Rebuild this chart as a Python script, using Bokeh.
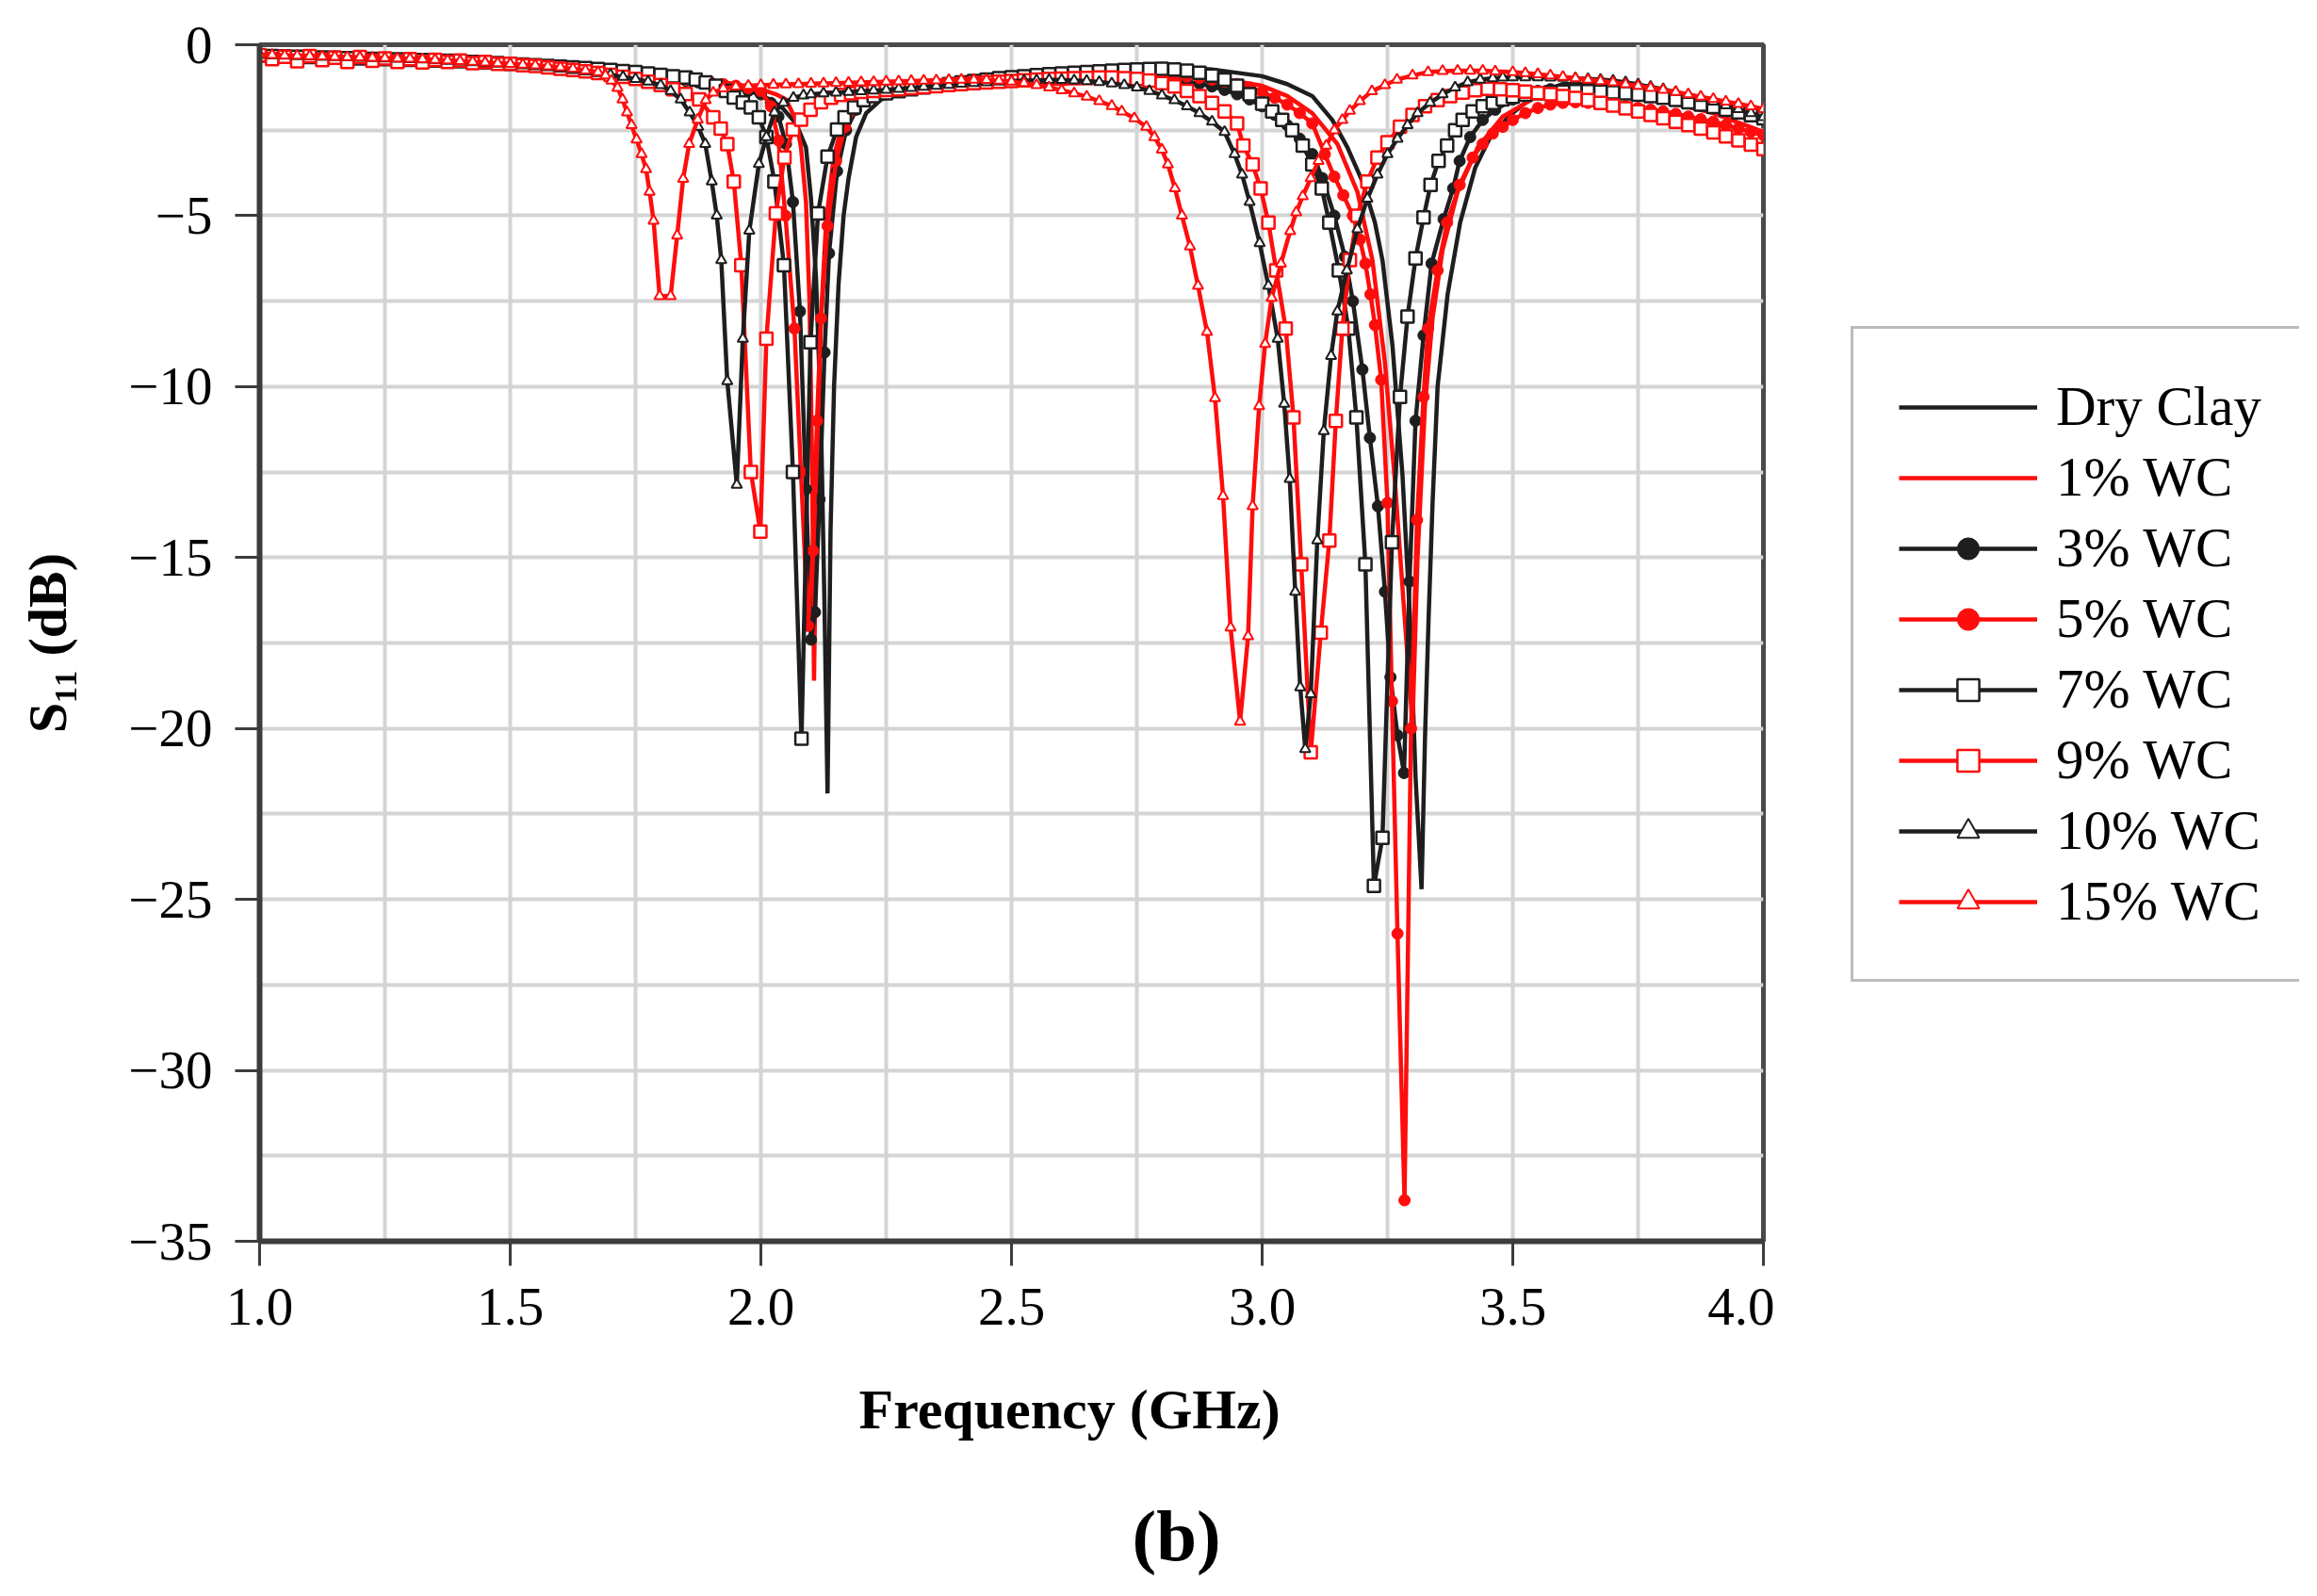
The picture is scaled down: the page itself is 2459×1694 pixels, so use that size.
from bokeh.plotting import figure
from bokeh.layouts import row
from bokeh.models import Range1d, FixedTicker, Legend, LegendItem, Title
from bokeh.embed import file_html
from bokeh.resources import INLINE

# ---------------- data ----------------
GRID_LOW = [1.0, 1.025, 1.05, 1.075, 1.1, 1.125, 1.15, 1.175, 1.2, 1.225, 1.25, 1.275, 1.3, 1.325,
            1.35, 1.375, 1.4, 1.425, 1.45, 1.475, 1.5, 1.525, 1.55, 1.575, 1.6, 1.625, 1.65, 1.675,
            1.7, 1.725, 1.75, 1.775, 1.8, 1.825, 1.85, 1.875, 1.9, 1.925, 1.95, 1.975, 2.0]
GRID_MID = [1.975, 2.0, 2.025, 2.05, 2.075, 2.1, 2.125, 2.15, 2.175, 2.2, 2.225, 2.25, 2.275, 2.3,
            2.325, 2.35, 2.375, 2.4, 2.425, 2.45, 2.475, 2.5, 2.525, 2.55, 2.575, 2.6, 2.625, 2.65,
            2.675, 2.7, 2.725, 2.75, 2.775, 2.8, 2.825, 2.85, 2.875, 2.9, 2.925, 2.95, 2.975, 3.0,
            3.025, 3.05, 3.075, 3.1]
GRID_TAIL = [3.5, 3.525, 3.55, 3.575, 3.6, 3.625, 3.65, 3.675, 3.7, 3.725, 3.75, 3.775, 3.8, 3.825,
             3.85, 3.875, 3.9, 3.925, 3.95, 3.975, 4.0]


def seg(grid, a, b):
    return [f for f in grid if a - 1e-9 <= f <= b + 1e-9]


# Dry Clay
F_DRY = [1.0, 1.1, 1.2, 1.3, 1.4, 1.5, 1.6, 1.7, 1.8, 1.9, 1.95, 2.0, 2.04, 2.07, 2.09, 2.1, 2.11, 2.12,
         2.127, 2.133, 2.139, 2.146, 2.155, 2.165, 2.175, 2.19, 2.21, 2.24, 2.3, 2.4, 2.5, 2.6, 2.7, 2.8,
         2.9, 3.0, 3.05, 3.1, 3.14, 3.17, 3.2, 3.225, 3.24, 3.26, 3.28, 3.295, 3.306, 3.318, 3.325, 3.332,
         3.34, 3.35, 3.37, 3.395, 3.425, 3.455, 3.495, 3.55, 3.6, 3.7, 3.8, 3.9, 4.0]
S_DRY = [-0.30, -0.32, -0.36, -0.40, -0.45, -0.52, -0.62, -0.75, -0.92, -1.12, -1.25, -1.45, -1.8, -2.3,
         -3.0, -4.5, -6.8, -11.0, -16.5, -21.9, -14.2, -10.0, -7.0, -5.0, -3.9, -2.7, -2.0, -1.6, -1.35,
         -1.0, -0.85, -0.75, -0.68, -0.65, -0.72, -0.92, -1.15, -1.5, -2.2, -3.0, -4.0, -5.2, -6.3, -8.8,
         -12.6, -16.8, -21.4, -24.7, -20.2, -16.8, -13.4, -10.0, -7.3, -5.2, -3.6, -2.7, -2.05, -1.4,
         -1.15, -1.15, -1.4, -1.75, -2.15]

# 1% WC
F_1 = [1.0, 1.1, 1.2, 1.3, 1.4, 1.5, 1.6, 1.7, 1.8, 1.9, 1.95, 2.0, 2.03, 2.05, 2.07, 2.08, 2.09, 2.097,
       2.102, 2.106, 2.112, 2.12, 2.13, 2.145, 2.165, 2.19, 2.23, 2.3, 2.4, 2.5, 2.6, 2.7, 2.8, 2.9, 3.0,
       3.05, 3.1, 3.15, 3.19, 3.22, 3.245, 3.265, 3.283, 3.3, 3.31, 3.325, 3.34, 3.36, 3.39, 3.43, 3.48,
       3.55, 3.6, 3.7, 3.8, 3.9, 4.0]
S_1 = [-0.28, -0.3, -0.33, -0.38, -0.43, -0.5, -0.6, -0.72, -0.88, -1.05, -1.15, -1.3, -1.45, -1.6, -2.2,
       -3.0, -4.6, -7.5, -12.0, -18.6, -12.5, -8.0, -5.2, -3.3, -2.2, -1.7, -1.4, -1.25, -1.1, -1.0, -0.9,
       -0.85, -0.85, -0.95, -1.2, -1.5, -2.0, -2.9, -4.3, -6.3, -9.3, -12.8, -16.5, -19.9, -15.0, -10.5,
       -8.0, -6.0, -4.3, -3.0, -2.1, -1.5, -1.35, -1.4, -1.65, -2.0, -2.55]

# 3% WC
F3_D1 = [2.02, 2.035, 2.05, 2.064, 2.078, 2.09, 2.1, 2.108, 2.117, 2.127, 2.136, 2.152, 2.17, 2.19, 2.21, 2.235]
F3_D2 = [3.12, 3.144, 3.165, 3.181, 3.2, 3.215, 3.231, 3.245, 3.256, 3.27, 3.283, 3.294, 3.306, 3.322,
         3.338, 3.362, 3.381, 3.394, 3.415, 3.44, 3.465]
S3_LOW = [-0.32, -0.33, -0.33, -0.34, -0.35, -0.36, -0.37, -0.38, -0.40, -0.41, -0.42, -0.43, -0.44, -0.45,
          -0.46, -0.48, -0.49, -0.50, -0.52, -0.54, -0.56, -0.58, -0.60, -0.63, -0.66, -0.69, -0.72, -0.76,
          -0.80, -0.84, -0.88, -0.92, -0.96, -1.00, -1.05, -1.10, -1.15, -1.20, -1.27, -1.35, -1.45]
S3_D1 = [-1.7, -2.1, -2.9, -4.6, -7.8, -13.0, -17.4, -16.6, -13.3, -9.0, -6.1, -3.7, -2.5, -1.9, -1.6, -1.45]
S3_MID = [-1.40, -1.35, -1.30, -1.26, -1.22, -1.18, -1.15, -1.12, -1.09, -1.06, -1.04, -1.02, -1.00, -0.98,
          -0.96, -0.95, -0.94, -0.93, -0.93, -0.93, -0.94, -0.96, -0.99, -1.03, -1.08, -1.14, -1.22, -1.32,
          -1.45, -1.60, -1.80, -2.05, -2.35, -2.75, -3.20]
S3_D2 = [-3.9, -5.0, -6.2, -7.5, -9.5, -11.5, -13.5, -16.0, -18.5, -20.2, -21.3, -15.7, -11.0, -8.5, -6.4,
         -5.1, -4.2, -3.4, -2.7, -2.2, -1.9]
S3_TAIL = [-1.60, -1.45, -1.35, -1.30, -1.28, -1.28, -1.30, -1.32, -1.35, -1.40, -1.45, -1.50, -1.55, -1.62,
           -1.70, -1.78, -1.85, -1.93, -2.00, -2.08, -2.15]

# 5% WC
F5_D1 = [2.02, 2.035, 2.049, 2.067, 2.08, 2.094, 2.104, 2.112, 2.12, 2.133, 2.15, 2.168, 2.19, 2.215, 2.24]
F5_D2 = [3.125, 3.144, 3.162, 3.181, 3.195, 3.206, 3.216, 3.225, 3.2375, 3.25, 3.259, 3.27, 3.284, 3.297,
         3.309, 3.322, 3.331, 3.35, 3.369, 3.394, 3.42, 3.44, 3.46, 3.48]
S5_LOW = [-0.30, -0.31, -0.32, -0.33, -0.34, -0.35, -0.36, -0.37, -0.38, -0.40, -0.41, -0.42, -0.43, -0.44,
          -0.46, -0.47, -0.49, -0.50, -0.52, -0.54, -0.56, -0.58, -0.60, -0.62, -0.65, -0.68, -0.71, -0.75,
          -0.78, -0.82, -0.86, -0.90, -0.94, -0.98, -1.02, -1.06, -1.10, -1.15, -1.20, -1.27, -1.35]
S5_D1 = [-1.8, -2.8, -5.0, -8.3, -12.5, -17.0, -14.8, -11.0, -8.0, -5.3, -3.4, -2.4, -1.8, -1.5, -1.38]
S5_MID = [-1.35, -1.30, -1.26, -1.22, -1.18, -1.14, -1.11, -1.08, -1.05, -1.02, -1.00, -0.97, -0.95, -0.93,
          -0.91, -0.90, -0.89, -0.88, -0.87, -0.86, -0.86, -0.87, -0.88, -0.90, -0.93, -0.97, -1.02, -1.08,
          -1.15, -1.25, -1.38, -1.55, -1.75, -2.00, -2.30]
S5_D2 = [-3.2, -3.86, -4.4, -5.0, -5.7, -6.4, -7.3, -8.2, -9.8, -13.4, -19.2, -26.0, -33.8, -20.0, -13.9,
         -10.3, -8.3, -6.6, -5.2, -4.1, -3.3, -2.9, -2.6, -2.4]
S5_TAIL = [-2.20, -2.00, -1.85, -1.75, -1.70, -1.68, -1.70, -1.72, -1.75, -1.80, -1.85, -1.90, -1.95, -2.02,
           -2.10, -2.18, -2.25, -2.35, -2.45, -2.55, -2.65]

# 7% WC
F7_D1 = [1.87, 1.89, 1.91, 1.93, 1.946, 1.964, 1.98, 1.996, 2.011, 2.027, 2.046, 2.064, 2.081, 2.099, 2.114,
         2.133, 2.152, 2.167, 2.186, 2.205, 2.225]
F7_D2 = [3.0, 3.02, 3.04, 3.06, 3.081, 3.1, 3.119, 3.134, 3.153, 3.172, 3.188, 3.206, 3.223, 3.24, 3.259,
         3.275, 3.29, 3.306, 3.322, 3.336, 3.352, 3.369, 3.385, 3.4, 3.42, 3.44, 3.46, 3.48]
S7_LOW = [-0.32, -0.33, -0.34, -0.35, -0.36, -0.37, -0.38, -0.39, -0.40, -0.41, -0.42, -0.43, -0.44, -0.45,
          -0.46, -0.47, -0.48, -0.50, -0.52, -0.54, -0.56, -0.58, -0.60, -0.62, -0.64, -0.66, -0.68, -0.71,
          -0.74, -0.77, -0.80, -0.84, -0.88, -0.92, -0.96]
S7_D1 = [-1.02, -1.1, -1.2, -1.35, -1.54, -1.69, -1.83, -2.12, -2.7, -4.0, -6.45, -12.5, -20.3, -8.7, -4.93,
         -3.27, -2.48, -2.12, -1.83, -1.62, -1.5]
S7_MID = [-1.42, -1.36, -1.30, -1.25, -1.20, -1.15, -1.10, -1.06, -1.02, -0.98, -0.95, -0.92, -0.89, -0.86,
          -0.84, -0.82, -0.80, -0.78, -0.76, -0.74, -0.72, -0.71, -0.70, -0.72, -0.76, -0.82, -0.90, -1.02,
          -1.20, -1.45]
S7_D2 = [-1.72, -1.95, -2.2, -2.5, -2.95, -3.5, -4.2, -5.2, -6.6, -8.3, -10.9, -15.2, -24.6, -23.2, -14.55,
         -10.3, -7.95, -6.25, -5.05, -4.1, -3.4, -2.95, -2.5, -2.2, -1.95, -1.8, -1.7, -1.6]
S7_TAIL = [-1.52, -1.46, -1.42, -1.39, -1.37, -1.36, -1.36, -1.37, -1.39, -1.42, -1.46, -1.50, -1.55, -1.61,
           -1.68, -1.75, -1.82, -1.90, -1.98, -2.06, -2.15]

# 9% WC
F9_D1 = [1.877, 1.905, 1.92, 1.933, 1.946, 1.961, 1.98, 1.999, 2.011, 2.03, 2.047, 2.064, 2.08, 2.099, 2.12,
         2.14, 2.16, 2.18, 2.2, 2.225]
F9_D2 = [2.9625, 2.981, 2.997, 3.0125, 3.028, 3.047, 3.0625, 3.078, 3.097, 3.117, 3.134, 3.147, 3.16, 3.175,
         3.19, 3.21, 3.23, 3.25, 3.275, 3.3, 3.325, 3.35, 3.375, 3.4, 3.425, 3.45, 3.475]
S9_LOW = [-0.30, -0.42, -0.35, -0.48, -0.33, -0.45, -0.38, -0.50, -0.36, -0.47, -0.40, -0.50, -0.42, -0.52,
          -0.44, -0.50, -0.46, -0.54, -0.50, -0.56, -0.56, -0.60, -0.62, -0.66, -0.70, -0.74, -0.78, -0.83,
          -0.88, -0.94, -1.00, -1.08, -1.18, -1.30, -1.44]
S9_D1 = [-1.6, -2.12, -2.45, -2.91, -4.0, -6.45, -12.5, -14.24, -8.6, -4.93, -3.3, -2.48, -2.19, -1.9, -1.68,
         -1.55, -1.47, -1.42, -1.38, -1.35]
S9_MID = [-1.32, -1.30, -1.27, -1.24, -1.21, -1.18, -1.15, -1.12, -1.10, -1.08, -1.06, -1.04, -1.02, -1.00,
          -0.99, -0.98, -0.97, -0.96, -0.96, -0.98, -1.00, -1.05, -1.12, -1.22, -1.35, -1.50, -1.70, -1.95,
          -2.30]
S9_D2 = [-2.95, -3.5, -4.2, -5.2, -6.6, -8.3, -10.9, -15.2, -20.7, -17.2, -14.5, -11.0, -8.3, -6.3, -5.0,
         -4.0, -3.3, -2.85, -2.4, -2.05, -1.8, -1.62, -1.5, -1.4, -1.33, -1.29, -1.3]
S9_TAIL = [-1.33, -1.37, -1.41, -1.45, -1.50, -1.56, -1.62, -1.70, -1.78, -1.86, -1.95, -2.05, -2.15, -2.25,
           -2.35, -2.45, -2.56, -2.68, -2.80, -2.92, -3.05]

# 10% WC
F10_D1 = [1.82, 1.84, 1.858, 1.875, 1.889, 1.902, 1.912, 1.921, 1.933, 1.952, 1.964, 1.977, 1.996, 2.011,
          2.027, 2.045, 2.065, 2.085, 2.1, 2.125, 2.15, 2.175, 2.2, 2.225]
F10_D2 = [2.945, 2.96, 2.975, 2.995, 3.0125, 3.031, 3.044, 3.055, 3.066, 3.076, 3.086, 3.097, 3.11, 3.123,
          3.1375, 3.15, 3.169, 3.19, 3.21, 3.23, 3.25, 3.27, 3.29, 3.31, 3.335, 3.36, 3.385, 3.41, 3.435,
          3.46, 3.48]
S10_LOW = [-0.30, -0.31, -0.32, -0.33, -0.34, -0.35, -0.36, -0.37, -0.38, -0.39, -0.40, -0.41, -0.42, -0.43,
           -0.45, -0.47, -0.49, -0.51, -0.53, -0.55, -0.57, -0.60, -0.63, -0.66, -0.70, -0.74, -0.78, -0.83,
           -0.88, -0.94, -1.00, -1.08, -1.18]
S10_D1 = [-1.35, -1.6, -1.98, -2.4, -2.9, -4.0, -5.0, -6.3, -9.84, -12.87, -8.6, -5.44, -3.49, -2.7, -1.98,
          -1.7, -1.55, -1.48, -1.45, -1.42, -1.4, -1.38, -1.36, -1.34]
S10_MID = [-1.32, -1.29, -1.26, -1.23, -1.20, -1.17, -1.14, -1.12, -1.10, -1.08, -1.06, -1.05, -1.04, -1.03,
           -1.03, -1.04, -1.06, -1.09, -1.13, -1.18, -1.25, -1.35, -1.48, -1.62, -1.80, -2.00, -2.25, -2.55]
S10_D2 = [-3.2, -3.8, -4.6, -5.8, -7.05, -8.6, -10.5, -12.7, -16.0, -18.8, -20.6, -19.0, -14.5, -11.3, -9.1,
          -7.8, -6.6, -5.4, -4.5, -3.8, -3.2, -2.75, -2.35, -2.0, -1.7, -1.45, -1.25, -1.1, -1.02, -0.98, -0.96]
S10_TAIL = [-0.95, -0.95, -0.95, -0.96, -0.97, -0.98, -1.00, -1.02, -1.05, -1.10, -1.16, -1.23, -1.30, -1.38,
            -1.47, -1.56, -1.66, -1.77, -1.88, -2.00, -2.12]

# 15% WC
F15_D1 = [1.69, 1.702, 1.714, 1.724, 1.733, 1.742, 1.752, 1.762, 1.771, 1.778, 1.786, 1.798, 1.82, 1.833,
          1.845, 1.857, 1.874, 1.89, 1.905, 1.925, 1.95]
F15_D2 = [2.625, 2.65, 2.675, 2.7, 2.72, 2.745, 2.769, 2.785, 2.8, 2.812, 2.826, 2.84, 2.856, 2.872, 2.89,
          2.906, 2.922, 2.937, 2.956, 2.972, 2.981, 2.994, 3.006, 3.019, 3.0375, 3.056, 3.068, 3.081, 3.097,
          3.1125, 3.128, 3.144, 3.16, 3.175, 3.195, 3.219, 3.245, 3.269, 3.3, 3.331, 3.36, 3.39, 3.415, 3.44,
          3.465]
S15_LOW = [-0.28, -0.30, -0.31, -0.32, -0.33, -0.34, -0.35, -0.36, -0.37, -0.38, -0.39, -0.40, -0.41, -0.42,
           -0.44, -0.46, -0.48, -0.50, -0.52, -0.54, -0.56, -0.58, -0.60, -0.63, -0.66, -0.70, -0.75, -0.80]
S15_D1 = [-0.9, -1.05, -1.26, -1.6, -1.98, -2.35, -2.77, -3.2, -3.64, -4.3, -5.15, -7.35, -7.35, -5.58, -3.92,
          -2.9, -2.19, -1.62, -1.4, -1.28, -1.22]
S15_MID = [-1.20, -1.18, -1.17, -1.16, -1.15, -1.14, -1.13, -1.12, -1.11, -1.10, -1.09, -1.08, -1.07, -1.06,
           -1.05, -1.04, -1.03, -1.02, -1.02, -1.03, -1.05, -1.08, -1.12, -1.18, -1.25, -1.33]
S15_D2 = [-1.42, -1.52, -1.65, -1.79, -1.95, -2.15, -2.4, -2.7, -3.07, -3.5, -4.2, -5.0, -5.9, -7.05, -8.4,
          -10.34, -13.2, -17.05, -19.8, -17.3, -13.5, -10.57, -8.75, -7.4, -6.4, -5.45, -4.9, -4.43, -3.9, -3.4,
          -2.95, -2.5, -2.2, -1.93, -1.65, -1.36, -1.18, -1.02, -0.9, -0.8, -0.77, -0.76, -0.76, -0.76, -0.78]
S15_TAIL = [-0.80, -0.83, -0.86, -0.90, -0.94, -0.98, -1.02, -1.06, -1.10, -1.15, -1.20, -1.26, -1.32, -1.38,
            -1.45, -1.52, -1.59, -1.66, -1.73, -1.80, -1.88]

SERIES = [
    ("Dry Clay", F_DRY, S_DRY, "black", None),
    ("1% WC", F_1, S_1, "red", None),
    ("3% WC",
     seg(GRID_LOW, 1.0, 2.0) + F3_D1 + seg(GRID_MID, 2.25, 3.1) + F3_D2 + GRID_TAIL,
     S3_LOW + S3_D1 + S3_MID + S3_D2 + S3_TAIL, "black", "dot"),
    ("5% WC",
     seg(GRID_LOW, 1.0, 2.0) + F5_D1 + seg(GRID_MID, 2.25, 3.1) + F5_D2 + GRID_TAIL,
     S5_LOW + S5_D1 + S5_MID + S5_D2 + S5_TAIL, "red", "dot"),
    ("7% WC",
     seg(GRID_LOW, 1.0, 1.85) + F7_D1 + seg(GRID_MID, 2.25, 2.975) + F7_D2 + GRID_TAIL,
     S7_LOW + S7_D1 + S7_MID + S7_D2 + S7_TAIL, "black", "square"),
    ("9% WC",
     seg(GRID_LOW, 1.0, 1.85) + F9_D1 + seg(GRID_MID, 2.25, 2.95) + F9_D2 + GRID_TAIL,
     S9_LOW + S9_D1 + S9_MID + S9_D2 + S9_TAIL, "red", "square"),
    ("10% WC",
     seg(GRID_LOW, 1.0, 1.8) + F10_D1 + seg(GRID_MID, 2.25, 2.925) + F10_D2 + GRID_TAIL,
     S10_LOW + S10_D1 + S10_MID + S10_D2 + S10_TAIL, "black", "triangle"),
    ("15% WC",
     seg(GRID_LOW, 1.0, 1.675) + F15_D1 + seg(GRID_MID, 1.975, 2.6) + F15_D2 + GRID_TAIL,
     S15_LOW + S15_D1 + S15_MID + S15_D2 + S15_TAIL, "red", "triangle"),
]

X_TICKS = [1.0, 1.5, 2.0, 2.5, 3.0, 3.5, 4.0]
X_TICK_LABELS = ["1.0", "1.5", "2.0", "2.5", "3.0", "3.5", "4.0"]
Y_TICKS = [0, -5, -10, -15, -20, -25, -30, -35]
Y_TICK_LABELS = ["0", "\u22125", "\u221210", "\u221215", "\u221220", "\u221225", "\u221230", "\u221235"]
X_GRID = [1.25, 1.5, 1.75, 2.0, 2.25, 2.5, 2.75, 3.0, 3.25, 3.5, 3.75]
Y_GRID = [-2.5, -5, -7.5, -10, -12.5, -15, -17.5, -20, -22.5, -25, -27.5, -30, -32.5]

COLORS = {"black": "#1e1e1e", "red": "#ff0d0d"}
FONT = "Liberation Serif"

# ---------------- main figure ----------------
H = 1690
FL, FT, FR, FB = 275, 47, 1871, 1317   # frame edges (px)
W1 = FR + 12
W2 = 2440 - W1
p = figure(width=W1, height=H, x_range=Range1d(1.0, 4.0), y_range=Range1d(-35, 0),
           output_backend="svg", toolbar_location=None,
           min_border_left=FL, min_border_right=W1 - FR, min_border_top=FT,
           min_border_bottom=H - FB)
p.background_fill_color = "white"
p.border_fill_color = "white"
p.outline_line_color = "#4a4a4a"
p.outline_line_width = 5

p.xgrid.ticker = FixedTicker(ticks=X_GRID)
p.ygrid.ticker = FixedTicker(ticks=Y_GRID)
for g in (p.xgrid, p.ygrid):
    g.grid_line_color = "#d4d4d4"
    g.grid_line_width = 4

p.xaxis.ticker = FixedTicker(ticks=X_TICKS)
p.yaxis.ticker = FixedTicker(ticks=Y_TICKS)
p.xaxis.major_label_overrides = {t: l for t, l in zip(X_TICKS, X_TICK_LABELS)}
p.yaxis.major_label_overrides = {t: l for t, l in zip(Y_TICKS, Y_TICK_LABELS)}
for ax in (p.xaxis, p.yaxis):
    ax.axis_line_color = "#3c3c3c"
    ax.axis_line_width = 6
    ax.major_tick_line_color = "#3c3c3c"
    ax.major_tick_line_width = 3
    ax.major_tick_in = 0
    ax.major_tick_out = 26
    ax.minor_tick_line_color = None
    ax.major_label_text_font = FONT
    ax.major_label_text_font_size = "57px"
    ax.major_label_text_color = "black"
p.xaxis.major_label_standoff = 24
p.yaxis.major_label_standoff = 24

p.yaxis.axis_label = "S\u2081\u2081 (dB)"
p.yaxis.axis_label_text_font = FONT
p.yaxis.axis_label_text_font_style = "bold"
p.yaxis.axis_label_text_font_size = "58px"
p.yaxis.axis_label_text_color = "black"
p.yaxis.axis_label_standoff = 50


def draw(fig, fx, sy, c, mk):
    rends = [fig.line(fx, sy, line_color=c, line_width=4.5)]
    if mk == "dot":
        rends.append(fig.scatter(fx, sy, marker="circle", size=12, fill_color=c, line_color=c, line_width=1))
    elif mk == "square":
        rends.append(fig.scatter(fx, sy, marker="square", size=13, fill_color="white", line_color=c,
                                 line_width=2.5))
    elif mk == "triangle":
        rends.append(fig.scatter(fx, sy, marker="triangle", size=11, fill_color="white", line_color=c,
                                 line_width=2))
    return rends


for name, fx, sy, col, mk in SERIES:
    assert len(fx) == len(sy), name
    draw(p, fx, sy, COLORS[col], mk)

# x-axis title and caption
p.add_layout(Title(text="Frequency (GHz)", align="left", offset=636, vertical_align="top", standoff=108,
                   text_font=FONT, text_font_style="bold", text_font_size="60px", text_color="black"),
             "below")
p.add_layout(Title(text="(b)", align="left", offset=926, vertical_align="top", standoff=4,
                   text_font=FONT, text_font_style="bold", text_font_size="77px", text_color="black"),
             "below")

# ---------------- legend panel (second figure, to the right) ----------------
# Same series drawn again, but the ranges of this panel exclude them, so only the legend shows.
p2 = figure(width=W2, height=H, x_range=Range1d(10, 11), y_range=Range1d(10, 11),
            output_backend="svg", toolbar_location=None,
            x_axis_location=None, y_axis_location=None,
            min_border_left=0, min_border_right=0, min_border_top=FT, min_border_bottom=H - FB)
p2.grid.visible = False
p2.outline_line_color = None
p2.background_fill_color = "white"
p2.border_fill_color = "white"

items = []
for name, fx, sy, col, mk in SERIES:
    items.append(LegendItem(label=name, renderers=draw(p2, fx, sy, COLORS[col], mk)))

LEG_LEFT = 1970 - W1 - 6
LEG_BOTTOM = FB - 1042
legend = Legend(items=items, location=(LEG_LEFT, LEG_BOTTOM), margin=0,
                label_text_font=FONT, label_text_font_size="59px", label_text_color="black",
                glyph_width=147, glyph_height=58, label_height=55, label_standoff=20,
                spacing=6, padding=48,
                border_line_color="#7a7a7a", border_line_width=3,
                background_fill_color="white", background_fill_alpha=1.0)
p2.add_layout(legend)

open("out.html", "w").write(file_html(row(p, p2), INLINE, title="S11"))
